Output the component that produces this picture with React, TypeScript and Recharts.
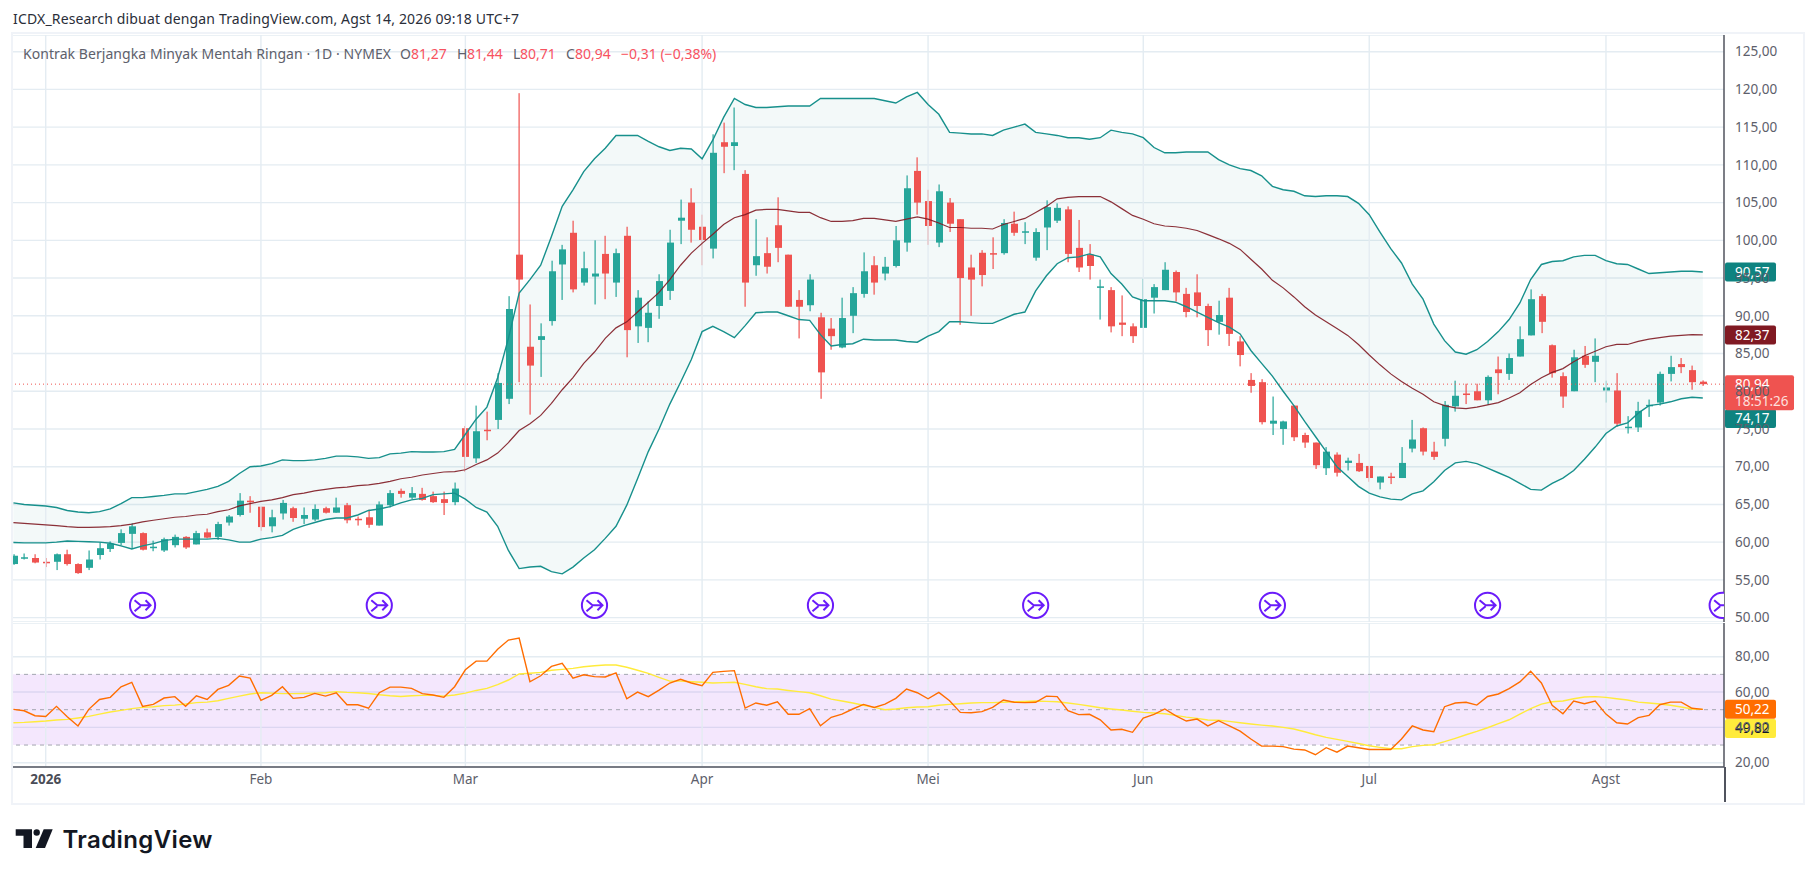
import React from "react";
import { ComposedChart, Bar, Line, Area, XAxis, YAxis, CartesianGrid, ReferenceLine, ReferenceArea, ReferenceDot } from "recharts";

const opens = [57.1,57.8,57.9,57.4,57.4,58.4,57.1,56.6,58.3,59.1,
59.9,61.1,61.2,59.2,58.9,59.6,60.7,59.7,61.3,60.7,
62.6,63.6,65.5,64.7,62.1,63.8,64.5,63.1,63.0,64.5,
63.9,64.9,63.1,63.3,62.2,64.9,66.8,65.9,66.4,66.1,
65.7,65.3,75.1,71.1,74.9,76.2,79.0,98.1,85.9,86.8,
89.3,96.8,101.0,94.4,95.2,98.2,94.4,100.6,88.6,88.4,
91.3,93.3,102.6,105.0,101.8,98.9,113.0,112.5,108.8,96.7,
98.3,102.0,98.1,92.1,91.4,89.8,88.3,85.8,90.0,92.9,
96.7,95.6,96.6,99.7,109.2,105.2,99.7,105.0,102.8,96.4,
98.35,98.3,98.3,102.2,101.1,97.7,101.7,102.6,104.1,99.0,
98.1,93.8,93.4,89.1,88.6,88.4,92.4,93.4,95.8,92.9,
93.1,91.3,89.2,92.4,86.6,81.5,81.2,75.7,75.0,78.1,
74.2,73.2,69.8,71.6,70.5,70.5,70.1,67.9,68.7,68.5,
72.4,75.1,72.0,73.7,78.0,79.7,80.0,78.8,82.9,82.3,
84.6,87.4,92.6,86.1,82.0,80.0,84.7,83.9,80.1,80.1,
75.2,75.2,78.1,78.5,82.3,83.6,82.8,81.27];

const closes = [58.2,58.0,57.3,57.3,58.4,57.1,55.9,57.7,59.2,59.8,
61.2,62.1,59.0,59.4,60.4,60.7,59.3,61.2,60.6,62.4,
63.4,65.5,65.3,62.0,63.3,65.2,63.2,63.6,64.4,63.9,
64.6,62.9,63.0,62.3,65.0,66.5,66.4,66.5,65.6,65.3,
65.2,67.1,71.3,74.7,74.8,81.1,90.9,94.8,83.4,87.3,
95.9,98.8,93.5,96.3,95.6,95.6,98.3,88.1,92.4,90.4,
94.6,99.7,103.0,101.4,100.05,111.6,112.4,113.0,94.4,97.9,
96.5,99.0,91.2,91.2,94.8,82.5,87.3,89.7,93.0,95.9,
94.4,96.5,100.0,106.9,105.0,101.9,106.5,102.2,95.0,94.8,
95.4,98.2,102.3,101.0,101.2,101.1,104.4,104.3,98.2,96.4,
96.6,93.9,88.6,88.8,87.3,92.2,93.8,96.1,93.1,90.5,
91.3,88.1,90.1,87.6,84.8,80.7,75.9,76.1,76.0,73.9,
73.2,70.2,72.0,69.2,70.8,69.4,68.5,68.7,68.6,70.5,
73.6,72.0,71.3,78.2,79.4,79.5,78.8,81.9,82.4,84.4,
86.9,92.2,89.2,82.4,79.3,84.5,83.5,84.7,80.5,75.7,
75.3,77.4,78.2,82.3,83.2,83.2,81.2,80.94];

const highs = [58.4,58.5,58.4,57.9,58.5,59.0,57.2,58.9,60.0,60.1,
61.7,62.5,61.3,60.2,60.6,61.0,60.8,61.5,61.8,62.7,
63.6,66.5,66.1,64.7,64.3,65.6,64.7,64.6,65.0,64.7,
65.9,65.2,63.4,64.3,65.4,66.9,67.1,67.3,67.2,66.7,
66.7,67.9,75.4,78.1,77.3,82.4,92.6,119.5,91.5,89.0,
97.3,99.4,102.6,98.5,100.0,100.6,98.9,101.8,93.4,91.9,
95.5,101.4,105.4,106.9,103.4,114.05,115.6,117.6,109.3,102.8,
100.4,105.7,98.1,93.4,95.5,90.4,89.7,92.4,93.8,98.4,
97.9,97.8,101.9,108.6,111.0,106.7,107.4,105.6,102.8,98.1,
98.7,100.4,102.8,103.8,102.4,101.6,105.3,104.9,104.5,102.7,
99.5,94.8,93.8,92.7,89.0,94.9,94.2,97.1,96.0,93.7,
95.5,91.6,92.0,93.7,87.3,82.4,81.6,79.3,76.1,78.1,
74.5,73.2,72.6,71.9,71.2,71.7,70.1,68.7,69.2,72.6,
76.2,75.2,73.3,78.7,81.4,81.0,81.0,82.1,84.6,85.0,
88.6,93.5,92.9,86.2,82.5,85.5,86.0,87.0,81.4,82.4,
76.7,78.6,78.9,82.6,84.7,84.4,83.4,81.44];

const lows = [57.0,57.7,57.2,56.7,56.3,56.9,55.8,56.3,57.7,58.7,
59.6,59.1,58.9,58.8,58.7,59.3,59.1,59.7,60.5,60.3,
62.2,63.4,63.9,61.5,61.3,63.0,62.7,62.4,62.8,63.8,
63.9,62.5,62.2,61.9,62.2,64.6,65.9,65.7,65.5,65.2,
63.6,64.9,69.3,70.5,73.5,75.0,78.3,81.2,76.9,81.9,
88.7,92.1,93.1,94.0,91.5,92.2,92.5,84.5,86.4,86.5,
89.6,92.1,99.5,99.7,96.7,97.6,108.9,109.3,91.2,95.3,
95.6,97.1,91.2,87.0,90.6,79.0,85.5,85.7,87.7,92.4,
92.8,94.7,96.4,98.5,103.4,99.4,99.1,101.1,88.8,90.0,
93.9,96.2,98.1,100.6,99.5,97.3,98.7,102.3,97.1,95.8,
94.8,89.5,87.8,87.3,86.4,88.4,90.3,93.4,91.9,89.8,
89.8,86.0,87.5,86.0,83.3,79.8,75.6,74.2,72.9,73.4,
72.5,69.7,68.9,68.7,69.5,69.3,68.0,67.0,67.7,68.5,
71.9,71.5,70.9,72.7,77.3,78.3,78.8,78.2,79.6,81.5,
84.6,87.4,87.7,81.8,77.8,80.0,83.1,81.2,78.5,75.3,
74.4,74.6,76.6,78.1,81.3,82.4,80.2,80.71];

const bbUpper = [65.2,65.0,64.9,64.8,64.6,64.2,64.0,63.9,64.05,64.4,
65.1,65.9,65.9,66.05,66.2,66.4,66.4,66.7,67.0,67.4,
68.05,69.1,70.0,70.1,70.4,70.9,70.8,70.8,70.9,71.1,
71.4,71.4,71.3,71.1,71.2,71.7,71.8,72.0,71.95,71.95,
72.0,72.3,74.3,76.3,77.9,81.8,87.0,93.0,94.8,96.7,
100.5,104.5,106.7,109.1,110.8,112.2,113.9,113.9,113.9,113.1,
112.4,111.9,112.2,112.1,110.8,113.3,116.3,118.8,118.0,117.6,
117.6,117.7,117.8,117.8,117.8,118.8,118.8,118.8,118.8,118.8,
118.8,118.5,118.2,119.0,119.6,118.0,116.7,114.3,114.2,114.1,
114.1,113.9,114.6,115.0,115.4,114.3,114.1,113.9,113.6,113.6,
113.4,113.6,114.6,114.3,114.1,113.6,112.3,111.6,111.6,111.7,
111.7,111.7,110.7,110.0,109.5,109.25,108.55,107.15,106.7,106.5,
105.9,105.8,105.9,105.9,105.8,104.9,103.4,101.1,98.9,97.0,
94.2,92.2,88.9,86.7,85.2,84.9,85.5,86.6,87.9,89.5,
91.7,94.8,96.8,97.2,97.3,97.8,98.0,98.0,97.3,96.9,
96.8,96.2,95.6,95.7,95.8,95.9,95.9,95.8];

const bbBasis = [62.6,62.5,62.4,62.3,62.2,62.05,61.95,61.95,62.0,62.05,
62.2,62.4,62.7,62.9,63.1,63.3,63.4,63.6,63.7,64.05,
64.3,64.8,65.1,65.4,65.6,65.9,66.3,66.5,66.8,67.0,
67.2,67.3,67.5,67.6,67.8,68.05,68.4,68.6,68.9,69.1,
69.3,69.35,69.6,70.3,70.9,71.8,73.2,74.8,75.7,76.8,
78.4,80.2,81.8,83.7,85.2,87.0,88.4,89.2,90.5,91.8,
93.1,94.8,96.7,98.3,99.6,100.8,102.1,103.0,103.4,104.0,
104.1,104.1,103.9,103.7,103.7,103.0,102.5,102.5,102.6,102.9,
102.9,102.7,102.5,102.8,103.1,102.8,102.3,101.7,101.7,101.6,
101.6,101.5,102.1,102.5,102.9,103.7,104.5,105.5,105.7,105.8,
105.8,105.8,105.1,104.2,103.3,102.8,102.2,101.9,101.8,101.6,
101.3,100.75,100.2,99.6,98.8,97.5,96.2,94.7,93.7,92.5,
91.2,90.1,89.2,88.3,87.4,86.2,84.8,83.5,82.3,81.3,
80.4,79.6,78.6,78.1,77.8,77.7,77.9,78.2,78.5,79.1,
79.8,80.9,81.8,82.5,83.0,83.9,84.7,85.3,85.9,86.2,
86.2,86.6,86.9,87.1,87.3,87.4,87.5,87.47];

const bbLower = [59.95,59.9,59.9,59.9,60.0,60.15,60.1,60.05,60.0,59.85,
59.5,59.1,59.5,59.8,60.2,60.4,60.4,60.4,60.4,60.5,
60.3,60.0,60.0,60.4,60.6,60.9,61.7,62.2,62.6,63.0,
63.2,63.2,63.6,64.2,64.4,64.7,65.2,65.6,65.8,66.3,
66.4,66.5,65.7,64.6,64.0,62.1,58.9,56.5,56.7,56.8,
56.1,55.8,56.7,57.9,59.0,60.5,62.1,64.9,68.4,72.0,
75.0,78.3,81.2,84.2,87.9,88.6,87.9,87.1,88.7,90.4,
90.5,90.5,90.0,89.5,89.4,87.5,86.0,86.2,86.3,86.9,
86.8,86.8,86.8,86.6,86.5,87.3,87.9,89.2,89.2,89.1,
89.0,89.0,89.6,90.2,90.5,93.3,95.3,96.9,97.7,97.8,
98.2,97.8,95.6,94.2,92.5,92.0,92.0,92.0,91.8,91.2,
90.5,89.8,89.1,88.5,87.6,85.4,83.7,82.0,80.0,78.1,
76.0,74.0,72.0,70.0,68.7,67.4,66.5,66.0,65.7,65.6,
66.4,66.8,68.0,69.5,70.5,70.7,70.4,69.8,69.2,68.6,
67.8,67.0,66.9,67.8,68.5,69.5,71.0,72.6,74.4,75.4,
75.8,77.1,78.1,78.3,78.6,79.0,79.2,79.1];

const rsi = [50.2,49.4,46.6,46.2,51.9,46.0,40.8,50.2,55.8,57.0,
63.0,65.5,51.9,53.0,56.6,57.4,51.9,57.9,55.8,61.5,
63.8,69.1,67.9,55.3,58.1,63.0,56.4,57.0,59.2,57.7,
59.6,52.8,52.8,50.8,59.6,62.8,62.8,62.1,59.1,58.3,
57.0,63.0,72.6,77.5,77.5,84.2,89.4,90.6,65.8,69.2,
74.5,76.2,67.9,69.8,68.7,68.5,70.8,56.2,60.0,57.4,
61.1,65.1,67.2,65.1,63.6,71.1,71.7,72.1,50.9,53.8,
52.5,54.5,47.4,47.4,50.6,40.9,45.7,47.5,50.4,53.0,
51.3,53.2,56.4,61.7,59.6,56.2,59.8,55.1,48.5,48.3,
48.9,51.3,55.5,54.2,54.0,54.2,57.7,57.4,49.4,47.2,
47.4,44.3,38.5,38.9,37.2,45.3,47.4,50.4,46.6,43.6,
44.7,40.8,43.8,40.9,37.9,33.4,29.4,29.4,29.1,27.7,
27.2,24.5,28.5,26.0,29.4,28.5,27.5,27.5,27.5,33.4,
40.8,38.5,37.5,51.7,53.8,54.2,52.6,57.5,58.9,61.9,
65.7,71.7,65.1,52.5,47.7,54.9,53.4,54.9,47.5,42.6,
41.9,45.5,46.8,52.8,54.3,54.3,50.8,50.2];

const rsiMa = [42.6,42.8,43.2,43.6,44.2,44.5,45.3,46.2,47.5,48.7,
49.6,50.6,51.3,51.7,52.3,52.6,53.2,54.0,54.3,55.1,
56.4,57.7,58.9,59.6,59.4,59.1,59.1,59.2,59.4,59.6,
60.2,59.8,59.6,59.2,58.5,57.9,57.5,57.9,58.1,58.1,
57.7,58.3,59.4,60.9,62.1,64.2,66.8,70.2,70.6,71.1,
72.3,72.8,73.4,74.3,74.9,75.3,75.3,74.0,72.3,70.6,
68.3,66.2,66.2,65.8,65.5,65.1,65.3,65.5,64.3,63.0,
61.9,61.7,60.9,60.2,59.6,57.9,56.0,54.9,53.8,52.5,
51.3,50.0,50.4,51.1,51.5,51.7,52.5,53.0,53.4,53.8,
54.0,54.0,54.2,54.5,54.7,54.9,54.7,54.5,53.8,53.0,
52.1,51.1,50.4,49.8,49.1,48.5,48.1,47.7,46.8,45.8,
45.1,44.2,44.0,43.4,42.6,41.9,41.3,40.8,40.0,39.1,
37.5,35.8,34.3,33.2,32.1,30.9,29.6,28.7,27.9,27.9,
29.1,29.8,30.2,31.9,33.8,35.8,37.7,39.8,42.1,44.3,
47.5,50.6,53.2,54.5,54.9,56.2,57.2,57.4,57.0,56.2,
55.5,54.3,53.8,53.2,52.5,51.5,50.4,50.2];

const monthTicks = [3, 23, 42, 64, 85, 105, 126, 148];
const monthLabels = ["2026", "Feb", "Mar", "Apr", "Mei", "Jun", "Jul", "Agst"];
const priceTicks = [50, 55, 60, 65, 70, 75, 80, 85, 90, 95, 100, 105, 110, 115, 120, 125];
const rsiTicks = [20, 40, 60, 80];
const rsiLevels = [70, 50, 30];
const bubbleIdx = [12, 34, 54, 75, 95, 117, 137, 158.8];

const UP = "#26a69a";
const DOWN = "#ef5350";
const GRID = "#e4ecf2";
const AXIS_TEXT = "#5d606b";
const FONT = "'Noto Sans', sans-serif";

const table = opens.map((o, i) => ({
  i,
  open: o,
  close: closes[i],
  high: highs[i],
  low: lows[i],
  upper: bbUpper[i],
  basis: bbBasis[i],
  lower: bbLower[i],
}));
const rsiTable = rsi.map((v, i) => ({ i, rsi: v, ma: rsiMa[i] }));

const comma = (v: number) => v.toFixed(2).replace(".", ",");
const xDomain: [number, number] = [-0.04, 158.97];

function Candle(props: any) {
  const { x, y, width, height, payload } = props;
  const { open, close, high, low } = payload;
  const unit = height / (high - low);
  const top = y + (high - Math.max(open, close)) * unit;
  const bot = y + (high - Math.min(open, close)) * unit;
  const color = close >= open ? UP : DOWN;
  const cx = Math.round(x + width / 2);
  return (
    <g>
      <rect x={cx - 0.5} y={y} width={1.2} height={height} fill={color} />
      <rect x={cx - 3} y={top} width={7} height={Math.max(bot - top, 1.5)} fill={color} />
    </g>
  );
}

function Bubble(props: any) {
  const { cx, cy } = props;
  const id = `clip-b-${Math.round(cx)}`;
  return (
    <g>
      <clipPath id={id}>
        <rect x={0} y={0} width={1711} height={587} />
      </clipPath>
      <g clipPath={`url(#${id})`}>
        <g transform={`translate(${cx},${cy})`} fill="none" stroke="#6a1bfa">
          <circle r={12.6} fill="#fff" strokeWidth={2} />
          <path d="M-8,-5 L-2,0 L8,0 M3,-5 L8,0 L3,5 M-8,6 L-2,1" strokeWidth={2} />
        </g>
      </g>
    </g>
  );
}

function makeTag(text: string, bg: string, fg: string) {
  return (p: any) => {
    const vb = p.viewBox;
    const px = vb.x + vb.width;
    const py = vb.y;
    return (
      <g>
        <rect x={px + 1} y={py - 9.5} width={51} height={19} rx={2} fill={bg} />
        <text x={px + 11} y={py + 5} fontFamily={FONT} fontSize={13.5} fill={fg}>{text}</text>
      </g>
    );
  };
}

function priceTag(p: any) {
  const vb = p.viewBox;
  const px = vb.x + vb.width;
  const py = vb.y;
  return (
    <g>
      <rect x={px + 1} y={py - 9} width={69} height={35} rx={2} fill={DOWN} />
      <text x={px + 11} y={py + 5} fontFamily={FONT} fontSize={13.5} fill="#fff">80,94</text>
      <text x={px + 11} y={py + 22} fontFamily={FONT} fontSize={13.5} fill="#fde0de">18:51:26</text>
    </g>
  );
}

function MonthTick(props: any) {
  const { x, y, index } = props;
  const first = index === 0;
  return (
    <text x={x} y={y + 5} textAnchor="middle" fontFamily={FONT} fontSize={13.5} fontWeight={first ? 700 : 400} fill={first ? "#4a4d57" : AXIS_TEXT}>
      {monthLabels[index]}
    </text>
  );
}

function App() {
  return (
    <div style={{ position: "absolute", left: 0, top: 0, width: 1814, height: 877, background: "#fff", overflow: "hidden" }}>
      <div style={{ position: "absolute", left: 11, top: 32, width: 1790, height: 769, border: "2px solid #f0f3f8" }} />

      <svg width={1814} height={60} style={{ position: "absolute", left: 0, top: 0 }}>
        <text x={13} y={24} fontFamily={FONT} fontSize={14} fill="#2a2e39" textLength={506} lengthAdjust="spacing">
          ICDX_Research dibuat dengan TradingView.com, Agst 14, 2026 09:18 UTC+7
        </text>
      </svg>

      <div style={{ position: "absolute", left: 13, top: 35 }}>
        <ComposedChart width={1788} height={587} data={table} margin={{ top: 0, right: 0, bottom: 0, left: 0 }}>
          <CartesianGrid horizontal vertical={false} stroke={GRID} strokeWidth={1.4} />
          <XAxis dataKey="i" type="number" domain={xDomain} allowDataOverflow hide ticks={monthTicks} />
          <YAxis
            orientation="right"
            width={77}
            domain={[49.42, 127.21]}
            allowDataOverflow
            ticks={priceTicks}
            interval={0}
            tickLine={false}
            tickSize={0}
            tickMargin={11}
            axisLine={{ stroke: "#50535e", strokeWidth: 1.5 }}
            tick={{ fontFamily: FONT, fontSize: 13.5, fill: AXIS_TEXT }}
            tickFormatter={comma}
          />
          {monthTicks.map((m) => (
            <ReferenceLine key={m} x={m} stroke={GRID} strokeWidth={1.4} />
          ))}
          <ReferenceLine y={80.94} stroke="#ef5350" strokeWidth={1} strokeDasharray="1 3" />
          <Area dataKey={(d: any) => [d.lower, d.upper]} type="linear" stroke="none" fill="#0b8f8a" fillOpacity={0.05} isAnimationActive={false} activeDot={false} dot={false} />
          <Line dataKey="upper" type="linear" stroke="#17908c" strokeWidth={1.4} dot={false} isAnimationActive={false} />
          <Line dataKey="lower" type="linear" stroke="#17908c" strokeWidth={1.4} dot={false} isAnimationActive={false} />
          <Line dataKey="basis" type="linear" stroke="#801922" strokeWidth={1.2} strokeOpacity={0.9} dot={false} isAnimationActive={false} />
          <Bar dataKey={(d: any) => [d.low, d.high]} barSize={7} shape={Candle} isAnimationActive={false} />
          {bubbleIdx.map((b) => (
            <ReferenceDot key={b} x={b} y={51.63} r={13} shape={Bubble} ifOverflow="visible" />
          ))}
          <ReferenceLine y={95.8} stroke="none" label={makeTag("90,57", "#0e8380", "#fff")} />
          <ReferenceLine y={87.47} stroke="none" label={makeTag("82,37", "#801922", "#fff")} />
          <ReferenceLine y={76.4} stroke="none" label={makeTag("74,17", "#0e8380", "#fff")} />
          <ReferenceLine y={80.94} stroke="none" label={priceTag} />
        </ComposedChart>
      </div>

      <div style={{ position: "absolute", left: 13, top: 623 }}>
        <ComposedChart width={1788} height={179} data={rsiTable} margin={{ top: 0, right: 0, bottom: 0, left: 0 }}>
          <CartesianGrid horizontal vertical={false} stroke={GRID} strokeWidth={1.4} />
          <XAxis
            dataKey="i"
            type="number"
            domain={xDomain}
            allowDataOverflow
            ticks={monthTicks}
            interval={0}
            height={35}
            tickLine={false}
            tickSize={0}
            tickMargin={12}
            axisLine={{ stroke: "#50535e", strokeWidth: 1.5 }}
            tick={MonthTick}
          />
          <YAxis
            orientation="right"
            width={77}
            domain={[17.57, 99.07]}
            allowDataOverflow
            ticks={rsiTicks}
            interval={0}
            tickLine={false}
            tickSize={0}
            tickMargin={11}
            axisLine={{ stroke: "#50535e", strokeWidth: 1.5 }}
            tick={{ fontFamily: FONT, fontSize: 13.5, fill: AXIS_TEXT }}
            tickFormatter={comma}
          />
          <ReferenceArea y1={30} y2={70} fill="#9c27f0" fillOpacity={0.11} stroke="none" />
          {monthTicks.map((m) => (
            <ReferenceLine key={m} x={m} stroke={GRID} strokeWidth={1.4} />
          ))}
          {rsiLevels.map((l) => (
            <ReferenceLine key={l} y={l} stroke="#a3a6af" strokeWidth={1} strokeDasharray="4 4" />
          ))}
          <Line dataKey="ma" type="linear" stroke="#ffeb3b" strokeWidth={1.4} dot={false} isAnimationActive={false} />
          <Line dataKey="rsi" type="linear" stroke="#ff6d00" strokeWidth={1.4} dot={false} isAnimationActive={false} />
          <ReferenceLine y={50.22} stroke="none" label={makeTag("50,22", "#ff6d00", "#fff")} />
          <ReferenceLine y={39.4} stroke="none" label={makeTag("49,82", "#ffeb3b", "#131722")} />
        </ComposedChart>
      </div>

      <div style={{ position: "absolute", left: 1724, top: 767, width: 1.5, height: 35, background: "#50535e" }} />

      <svg width={1814} height={70} style={{ position: "absolute", left: 0, top: 30, pointerEvents: "none" }}>
        <g fontFamily={FONT} fontSize={14}>
          <text x={23} y={29} fill={AXIS_TEXT} textLength={368} lengthAdjust="spacing">Kontrak Berjangka Minyak Mentah Ringan · 1D · NYMEX</text>
          <text x={400} y={29} fill={AXIS_TEXT}>O</text>
          <text x={411} y={29} fill="#f7525f">81,27</text>
          <text x={457} y={29} fill={AXIS_TEXT}>H</text>
          <text x={467} y={29} fill="#f7525f">81,44</text>
          <text x={513} y={29} fill={AXIS_TEXT}>L</text>
          <text x={520} y={29} fill="#f7525f">80,71</text>
          <text x={566} y={29} fill={AXIS_TEXT}>C</text>
          <text x={575} y={29} fill="#f7525f">80,94</text>
          <text x={621} y={29} fill="#f7525f">−0,31 (−0,38%)</text>
        </g>
      </svg>

      <svg width={240} height={50} style={{ position: "absolute", left: 0, top: 815 }}>
        <path d="M15.7,14.3 H32 V33 H23.5 V20.7 H15.7 Z" fill="#131722" />
        <circle cx={36.7} cy={17.5} r={3.2} fill="#131722" />
        <path d="M43.7,14.3 H52.7 L45,33 H35.7 Z" fill="#131722" />
        <text x={62.5} y={33} fontFamily="Inter, sans-serif" fontWeight={600} fontSize={24} fill="#131722" textLength={150} lengthAdjust="spacing">TradingView</text>
      </svg>
    </div>
  );
}

export default App;
